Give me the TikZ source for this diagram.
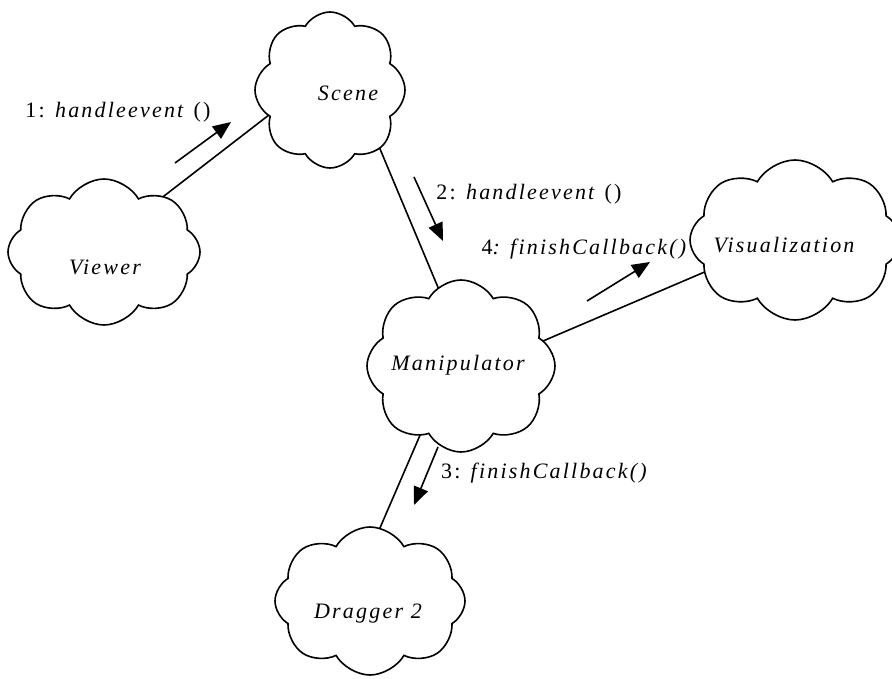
\documentclass[tikz,border=0pt]{standalone}
\usepackage{fontspec}
\setmainfont{Liberation Serif}[LetterSpace=10]
\usetikzlibrary{shapes.symbols,arrows.meta,backgrounds}
\newcommand{\cltext}[3]{\makebox[0pt]{\smash{\kern#1pt\kern#1pt\raisebox{#2pt}{#3}}}}
\begin{document}
\begin{tikzpicture}[x=1pt,y=-1pt,
  cl/.style={draw,fill=white,line width=1.6pt,cloud,cloud puffs=8,cloud puff arc=120,aspect=1,inner sep=0pt,font=\fontsize{22}{24}\selectfont\itshape},
  conn/.style={line width=1.6pt},
  msg/.style={line width=1.6pt,-{Triangle[length=18pt,width=15pt]}},
  lab/.style={font=\fontsize{22}{24}\selectfont,inner sep=0pt}]
\useasboundingbox (0,0) rectangle (892,679);
\node[cl,minimum width=150pt,minimum height=156pt] (scene) at (330,90) {\cltext{18}{-11}{Scene}};
\node[cl,minimum width=192pt,minimum height=146pt] (viewer) at (104,252) {\cltext{1}{-23}{Viewer}};
\node[cl,minimum width=188pt,minimum height=172pt] (manip) at (461,366) {\cltext{-3}{-4}{Manipulator}};
\node[cl,minimum width=210pt,minimum height=160pt] (vis) at (795,240) {\cltext{-11}{-13}{Visualization}};
\node[cl,minimum width=190pt,minimum height=148pt] (drag) at (370,601) {\cltext{-2}{-17}{Dragger 2}};
\begin{scope}[on background layer]
\draw[conn] ([shift={(16,-22)}]viewer.center) -- ([shift={(-52,18)}]scene.center);
\draw[conn] ([shift={(45,47)}]scene.center) -- ([shift={(-11,-50)}]manip.center);
\draw[conn] ([shift={(68,-19)}]manip.center) -- ([shift={(-74,25)}]vis.center);
\draw[conn] ([shift={(-21,23)}]manip.center) -- ([shift={(0,-50)}]drag.center);
\end{scope}
\coordinate (a1s) at (175,163); \coordinate (a1e) at (231,122);
\coordinate (a2s) at (414,177); \coordinate (a2e) at (443,241);
\coordinate (a4s) at (587,301); \coordinate (a4e) at (650,262);
\coordinate (a3s) at (438,447); \coordinate (a3e) at (414,505);
\draw[msg] (a1s) -- (a1e);
\draw[msg] (a2s) -- (a2e);
\draw[msg] (a4s) -- (a4e);
\draw[msg] (a3s) -- (a3e);
\node[lab] (l1) at (118,112) {1: \textit{handleevent} ()};
\node[lab] (l2) at (529,194) {2: \textit{handleevent} ()};
\node[lab] (l4) at (585,249) {4\textit{: finishCallback()}};
\node[lab] (l3) at (545,473) {3: \textit{finishCallback()}};
\end{tikzpicture}
\end{document}
